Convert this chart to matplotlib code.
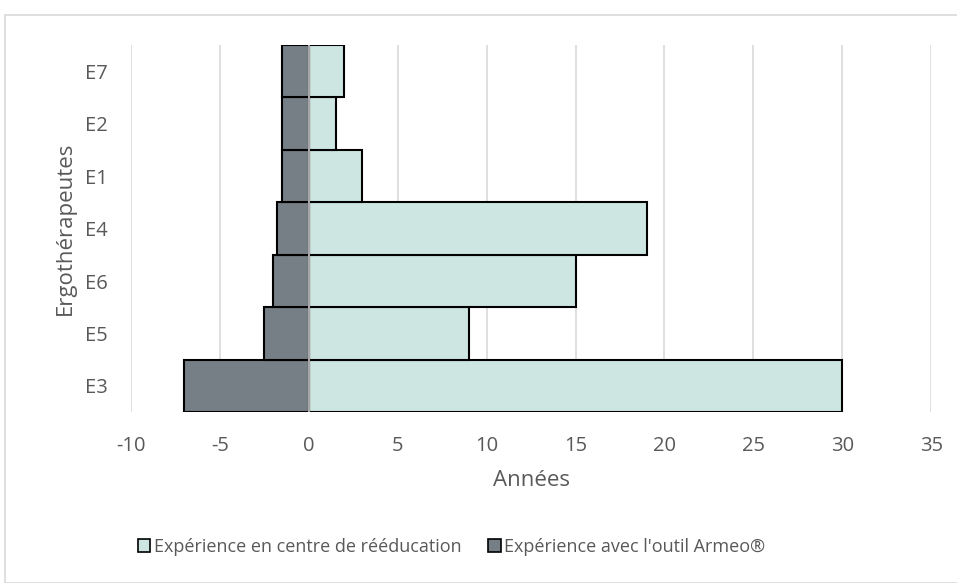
import matplotlib.pyplot as plt
from matplotlib.patches import Patch, Rectangle

plt.rcParams['font.family'] = ['Open Sans', 'DejaVu Sans']

therapists = ['E3', 'E5', 'E6', 'E4', 'E1', 'E2', 'E7']
centre_years = [30, 9, 15, 19, 3, 1.5, 2]
armeo_years = [-7, -2.5, -2, -1.8, -1.5, -1.5, -1.5]
xticks = [-10, -5, 0, 5, 10, 15, 20, 25, 30, 35]

teal = '#cde6e2'
slate = '#767e86'
grey_txt = '#595959'

fig = plt.figure(figsize=(9.57, 5.83), dpi=100)
ax = fig.add_axes([0.137, 0.293, 0.836, 0.63])

# outer chart frame
fig.patches.append(Rectangle((5 / 957, 0), 1, 1 - 15 / 583, transform=fig.transFigure,
                             fill=False, edgecolor='#d9d9d9', lw=1.2))

y = range(len(therapists))
ax.barh(y, centre_years, height=1.0, color=teal, edgecolor='black', lw=1.5, zorder=2)
ax.barh(y, armeo_years, height=1.0, color=slate, edgecolor='black', lw=1.5, zorder=2)
ax.axvline(0, color='#a6a6a6', lw=1.5, zorder=3)

ax.set_xlim(-10, 35)
ax.set_ylim(-0.5, len(therapists) - 0.5)
ax.set_xticks(xticks)
ax.set_xticklabels([str(t) for t in xticks])
ax.set_yticks(list(y))
ax.set_yticklabels(therapists)
ax.grid(axis='x', color='#d9d9d9', lw=1.2, zorder=0)
ax.set_axisbelow(True)
for s in ax.spines.values():
    s.set_visible(False)
ax.tick_params(length=0, labelsize=14.5, colors=grey_txt)
ax.tick_params(axis='y', pad=17)
ax.tick_params(axis='x', pad=17)

ax.set_xlabel('Années', fontsize=16, color=grey_txt, labelpad=10)
ax.set_ylabel('Ergothérapeutes', fontsize=16, color=grey_txt, labelpad=6)

handles = [Patch(facecolor=teal, edgecolor='black', lw=1.2),
           Patch(facecolor=slate, edgecolor='black', lw=1.2)]
labels = ['Expérience en centre de rééducation', "Expérience avec l'outil Armeo®"]
fig.legend(handles, labels, loc='center left', bbox_to_anchor=(0.144, 1 - 547 / 583),
           ncol=2, frameon=False, fontsize=13, labelcolor=grey_txt,
           handlelength=0.7, handleheight=0.7, handletextpad=0.2, columnspacing=1.45,
           borderaxespad=0, borderpad=0)

fig.savefig('out.png', dpi=100)
